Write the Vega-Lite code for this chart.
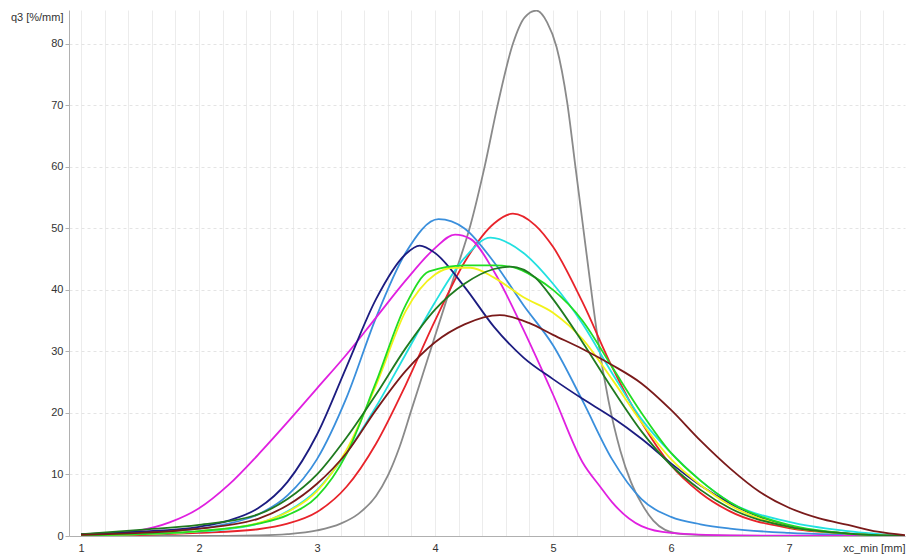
{
  "$schema": "https://vega.github.io/schema/vega-lite/v6.json",
  "width": 836,
  "height": 526,
  "autosize": "none",
  "padding": {"left": 69, "top": 10, "right": 3, "bottom": 18},
  "background": "white",
  "config": {
    "view": {"stroke": null},
    "font": "Liberation Sans"
  },
  "datasets": {
    "curves": [
      {"s": "gray", "x": 1, "y": 0}, {"s": "gray", "x": 2, "y": 0}, {"s": "gray", "x": 2.5, "y": 0.1}, {"s": "gray", "x": 2.75, "y": 0.3}, {"s": "gray", "x": 3, "y": 0.9}, {"s": "gray", "x": 3.2, "y": 2}, {"s": "gray", "x": 3.35, "y": 3.6}, {"s": "gray", "x": 3.5, "y": 6.5}, {"s": "gray", "x": 3.6, "y": 9.8}, {"s": "gray", "x": 3.7, "y": 14.5}, {"s": "gray", "x": 3.8, "y": 20.5}, {"s": "gray", "x": 3.9, "y": 26.5}, {"s": "gray", "x": 4, "y": 32.5}, {"s": "gray", "x": 4.15, "y": 41.5}, {"s": "gray", "x": 4.3, "y": 50.5}, {"s": "gray", "x": 4.42, "y": 60}, {"s": "gray", "x": 4.53, "y": 70}, {"s": "gray", "x": 4.66, "y": 80}, {"s": "gray", "x": 4.76, "y": 84.3}, {"s": "gray", "x": 4.86, "y": 85.4}, {"s": "gray", "x": 4.95, "y": 83.5}, {"s": "gray", "x": 5.03, "y": 79.5}, {"s": "gray", "x": 5.12, "y": 70.5}, {"s": "gray", "x": 5.19, "y": 60}, {"s": "gray", "x": 5.25, "y": 51}, {"s": "gray", "x": 5.31, "y": 42}, {"s": "gray", "x": 5.38, "y": 32}, {"s": "gray", "x": 5.47, "y": 22}, {"s": "gray", "x": 5.57, "y": 13.9}, {"s": "gray", "x": 5.66, "y": 8.8}, {"s": "gray", "x": 5.75, "y": 5.3}, {"s": "gray", "x": 5.85, "y": 2.5}, {"s": "gray", "x": 5.95, "y": 1}, {"s": "gray", "x": 6.1, "y": 0.3}, {"s": "gray", "x": 6.5, "y": 0.05}, {"s": "gray", "x": 7, "y": 0}, {"s": "gray", "x": 8, "y": 0},

      {"s": "red", "x": 1, "y": 0.1}, {"s": "red", "x": 1.5, "y": 0.2}, {"s": "red", "x": 2, "y": 0.5}, {"s": "red", "x": 2.5, "y": 1.1}, {"s": "red", "x": 2.75, "y": 2}, {"s": "red", "x": 3, "y": 3.9}, {"s": "red", "x": 3.25, "y": 8}, {"s": "red", "x": 3.5, "y": 15}, {"s": "red", "x": 3.75, "y": 24.5}, {"s": "red", "x": 4, "y": 35}, {"s": "red", "x": 4.25, "y": 44.5}, {"s": "red", "x": 4.5, "y": 50.8}, {"s": "red", "x": 4.66, "y": 52.4}, {"s": "red", "x": 4.85, "y": 50.5}, {"s": "red", "x": 5, "y": 47}, {"s": "red", "x": 5.25, "y": 38}, {"s": "red", "x": 5.5, "y": 27.5}, {"s": "red", "x": 5.75, "y": 18.5}, {"s": "red", "x": 6, "y": 11.5}, {"s": "red", "x": 6.25, "y": 7}, {"s": "red", "x": 6.5, "y": 4}, {"s": "red", "x": 7, "y": 1.3}, {"s": "red", "x": 7.5, "y": 0.4}, {"s": "red", "x": 8, "y": 0},

      {"s": "cyan", "x": 1, "y": 0.1}, {"s": "cyan", "x": 1.5, "y": 0.3}, {"s": "cyan", "x": 2, "y": 0.7}, {"s": "cyan", "x": 2.5, "y": 2}, {"s": "cyan", "x": 2.75, "y": 4}, {"s": "cyan", "x": 3, "y": 7.5}, {"s": "cyan", "x": 3.25, "y": 13.5}, {"s": "cyan", "x": 3.5, "y": 21}, {"s": "cyan", "x": 3.75, "y": 29.5}, {"s": "cyan", "x": 4, "y": 38}, {"s": "cyan", "x": 4.25, "y": 45.2}, {"s": "cyan", "x": 4.47, "y": 48.5}, {"s": "cyan", "x": 4.75, "y": 46}, {"s": "cyan", "x": 5, "y": 41}, {"s": "cyan", "x": 5.25, "y": 34.5}, {"s": "cyan", "x": 5.5, "y": 26.5}, {"s": "cyan", "x": 5.75, "y": 19}, {"s": "cyan", "x": 6, "y": 13.5}, {"s": "cyan", "x": 6.25, "y": 9}, {"s": "cyan", "x": 6.5, "y": 5.5}, {"s": "cyan", "x": 7, "y": 2.3}, {"s": "cyan", "x": 7.5, "y": 0.8}, {"s": "cyan", "x": 8, "y": 0},

      {"s": "blue", "x": 1, "y": 0.2}, {"s": "blue", "x": 1.5, "y": 0.5}, {"s": "blue", "x": 2, "y": 1.2}, {"s": "blue", "x": 2.25, "y": 2}, {"s": "blue", "x": 2.5, "y": 3.5}, {"s": "blue", "x": 2.75, "y": 6.6}, {"s": "blue", "x": 3, "y": 12.5}, {"s": "blue", "x": 3.25, "y": 22.5}, {"s": "blue", "x": 3.5, "y": 35.5}, {"s": "blue", "x": 3.75, "y": 46}, {"s": "blue", "x": 4.03, "y": 51.5}, {"s": "blue", "x": 4.25, "y": 50}, {"s": "blue", "x": 4.5, "y": 44.5}, {"s": "blue", "x": 4.75, "y": 37.5}, {"s": "blue", "x": 5, "y": 31}, {"s": "blue", "x": 5.25, "y": 22}, {"s": "blue", "x": 5.5, "y": 12.5}, {"s": "blue", "x": 5.75, "y": 6}, {"s": "blue", "x": 6, "y": 3.1}, {"s": "blue", "x": 6.25, "y": 1.9}, {"s": "blue", "x": 6.5, "y": 1.2}, {"s": "blue", "x": 7, "y": 0.5}, {"s": "blue", "x": 7.5, "y": 0.2}, {"s": "blue", "x": 8, "y": 0},

      {"s": "magenta", "x": 1, "y": 0.2}, {"s": "magenta", "x": 1.25, "y": 0.4}, {"s": "magenta", "x": 1.5, "y": 0.9}, {"s": "magenta", "x": 1.75, "y": 2.2}, {"s": "magenta", "x": 2, "y": 4.5}, {"s": "magenta", "x": 2.25, "y": 8.3}, {"s": "magenta", "x": 2.5, "y": 13.2}, {"s": "magenta", "x": 2.75, "y": 18.5}, {"s": "magenta", "x": 3, "y": 24}, {"s": "magenta", "x": 3.25, "y": 29.5}, {"s": "magenta", "x": 3.5, "y": 35.5}, {"s": "magenta", "x": 3.75, "y": 41.5}, {"s": "magenta", "x": 4, "y": 46.8}, {"s": "magenta", "x": 4.17, "y": 49}, {"s": "magenta", "x": 4.3, "y": 48.3}, {"s": "magenta", "x": 4.5, "y": 43}, {"s": "magenta", "x": 4.75, "y": 33.5}, {"s": "magenta", "x": 5, "y": 23}, {"s": "magenta", "x": 5.25, "y": 12}, {"s": "magenta", "x": 5.4, "y": 8}, {"s": "magenta", "x": 5.5, "y": 5.5}, {"s": "magenta", "x": 5.75, "y": 1.6}, {"s": "magenta", "x": 6, "y": 0.5}, {"s": "magenta", "x": 6.5, "y": 0.1}, {"s": "magenta", "x": 7, "y": 0.05}, {"s": "magenta", "x": 8, "y": 0},

      {"s": "navy", "x": 1, "y": 0.3}, {"s": "navy", "x": 1.5, "y": 0.7}, {"s": "navy", "x": 2, "y": 1.5}, {"s": "navy", "x": 2.25, "y": 2.5}, {"s": "navy", "x": 2.5, "y": 4.5}, {"s": "navy", "x": 2.75, "y": 8.8}, {"s": "navy", "x": 3, "y": 16.5}, {"s": "navy", "x": 3.25, "y": 27.5}, {"s": "navy", "x": 3.5, "y": 38.5}, {"s": "navy", "x": 3.75, "y": 45.8}, {"s": "navy", "x": 3.87, "y": 47.2}, {"s": "navy", "x": 4, "y": 46}, {"s": "navy", "x": 4.25, "y": 40.5}, {"s": "navy", "x": 4.5, "y": 34}, {"s": "navy", "x": 4.75, "y": 29}, {"s": "navy", "x": 5, "y": 25.5}, {"s": "navy", "x": 5.25, "y": 22.3}, {"s": "navy", "x": 5.5, "y": 19.3}, {"s": "navy", "x": 5.75, "y": 15.8}, {"s": "navy", "x": 6, "y": 11.8}, {"s": "navy", "x": 6.25, "y": 8.2}, {"s": "navy", "x": 6.5, "y": 5.3}, {"s": "navy", "x": 6.75, "y": 3.1}, {"s": "navy", "x": 7, "y": 1.6}, {"s": "navy", "x": 7.5, "y": 0.4}, {"s": "navy", "x": 8, "y": 0},

      {"s": "yellow", "x": 1, "y": 0.1}, {"s": "yellow", "x": 1.5, "y": 0.3}, {"s": "yellow", "x": 2, "y": 0.8}, {"s": "yellow", "x": 2.5, "y": 2.1}, {"s": "yellow", "x": 2.75, "y": 3.9}, {"s": "yellow", "x": 3, "y": 7.3}, {"s": "yellow", "x": 3.25, "y": 14}, {"s": "yellow", "x": 3.5, "y": 24.5}, {"s": "yellow", "x": 3.75, "y": 36.5}, {"s": "yellow", "x": 4, "y": 42.5}, {"s": "yellow", "x": 4.15, "y": 43.6}, {"s": "yellow", "x": 4.3, "y": 43.6}, {"s": "yellow", "x": 4.5, "y": 42}, {"s": "yellow", "x": 4.75, "y": 38.8}, {"s": "yellow", "x": 5, "y": 36.3}, {"s": "yellow", "x": 5.25, "y": 32}, {"s": "yellow", "x": 5.5, "y": 25.5}, {"s": "yellow", "x": 5.75, "y": 18.5}, {"s": "yellow", "x": 6, "y": 12.5}, {"s": "yellow", "x": 6.25, "y": 8.3}, {"s": "yellow", "x": 6.5, "y": 5}, {"s": "yellow", "x": 7, "y": 1.5}, {"s": "yellow", "x": 7.5, "y": 0.4}, {"s": "yellow", "x": 8, "y": 0},

      {"s": "lime", "x": 1, "y": 0.1}, {"s": "lime", "x": 1.5, "y": 0.3}, {"s": "lime", "x": 2, "y": 0.8}, {"s": "lime", "x": 2.5, "y": 2}, {"s": "lime", "x": 2.75, "y": 3.4}, {"s": "lime", "x": 3, "y": 6.4}, {"s": "lime", "x": 3.25, "y": 13.3}, {"s": "lime", "x": 3.5, "y": 25}, {"s": "lime", "x": 3.75, "y": 37.5}, {"s": "lime", "x": 3.95, "y": 43}, {"s": "lime", "x": 4.25, "y": 44}, {"s": "lime", "x": 4.5, "y": 44}, {"s": "lime", "x": 4.66, "y": 43.7}, {"s": "lime", "x": 4.85, "y": 42}, {"s": "lime", "x": 5, "y": 40}, {"s": "lime", "x": 5.25, "y": 35}, {"s": "lime", "x": 5.5, "y": 27.5}, {"s": "lime", "x": 5.75, "y": 20}, {"s": "lime", "x": 6, "y": 13.5}, {"s": "lime", "x": 6.25, "y": 9}, {"s": "lime", "x": 6.5, "y": 5.5}, {"s": "lime", "x": 7, "y": 1.8}, {"s": "lime", "x": 7.5, "y": 0.4}, {"s": "lime", "x": 8, "y": 0},

      {"s": "dgreen", "x": 1, "y": 0.3}, {"s": "dgreen", "x": 1.5, "y": 1}, {"s": "dgreen", "x": 2, "y": 1.8}, {"s": "dgreen", "x": 2.5, "y": 3.5}, {"s": "dgreen", "x": 2.75, "y": 6}, {"s": "dgreen", "x": 3, "y": 10}, {"s": "dgreen", "x": 3.25, "y": 16}, {"s": "dgreen", "x": 3.5, "y": 23}, {"s": "dgreen", "x": 3.75, "y": 30.5}, {"s": "dgreen", "x": 4, "y": 36.8}, {"s": "dgreen", "x": 4.25, "y": 41}, {"s": "dgreen", "x": 4.5, "y": 43.4}, {"s": "dgreen", "x": 4.64, "y": 43.8}, {"s": "dgreen", "x": 4.85, "y": 42}, {"s": "dgreen", "x": 5, "y": 38.5}, {"s": "dgreen", "x": 5.25, "y": 31.5}, {"s": "dgreen", "x": 5.5, "y": 24}, {"s": "dgreen", "x": 5.75, "y": 17}, {"s": "dgreen", "x": 6, "y": 11.5}, {"s": "dgreen", "x": 6.25, "y": 7.5}, {"s": "dgreen", "x": 6.5, "y": 4.5}, {"s": "dgreen", "x": 7, "y": 1.5}, {"s": "dgreen", "x": 7.5, "y": 0.4}, {"s": "dgreen", "x": 8, "y": 0},

      {"s": "maroon", "x": 1, "y": 0.2}, {"s": "maroon", "x": 1.5, "y": 0.5}, {"s": "maroon", "x": 2, "y": 1.2}, {"s": "maroon", "x": 2.5, "y": 2.8}, {"s": "maroon", "x": 2.75, "y": 5}, {"s": "maroon", "x": 3, "y": 8.5}, {"s": "maroon", "x": 3.25, "y": 13.5}, {"s": "maroon", "x": 3.5, "y": 20.5}, {"s": "maroon", "x": 3.75, "y": 26.8}, {"s": "maroon", "x": 4, "y": 31.5}, {"s": "maroon", "x": 4.25, "y": 34.4}, {"s": "maroon", "x": 4.55, "y": 35.9}, {"s": "maroon", "x": 4.8, "y": 34.6}, {"s": "maroon", "x": 5, "y": 32.7}, {"s": "maroon", "x": 5.25, "y": 30.4}, {"s": "maroon", "x": 5.5, "y": 27.8}, {"s": "maroon", "x": 5.75, "y": 24.8}, {"s": "maroon", "x": 6, "y": 20.5}, {"s": "maroon", "x": 6.25, "y": 15.5}, {"s": "maroon", "x": 6.5, "y": 11}, {"s": "maroon", "x": 6.75, "y": 7.2}, {"s": "maroon", "x": 7, "y": 4.6}, {"s": "maroon", "x": 7.25, "y": 2.9}, {"s": "maroon", "x": 7.5, "y": 1.8}, {"s": "maroon", "x": 7.75, "y": 0.7}, {"s": "maroon", "x": 8, "y": 0.1}
    ]
  },
  "data": {"name": "curves"},
  "mark": {"type": "line", "interpolate": "monotone", "strokeWidth": 1.8, "clip": true},
  "encoding": {
    "x": {
      "field": "x",
      "type": "quantitative",
      "scale": {"domain": [0.898, 7.983], "nice": false, "zero": false},
      "axis": {
        "values": [1, 1.2, 1.4, 1.6, 1.8, 2, 2.2, 2.4, 2.6, 2.8, 3, 3.2, 3.4, 3.6, 3.8, 4, 4.2, 4.4, 4.6, 4.8, 5, 5.2, 5.4, 5.6, 5.8, 6, 6.2, 6.4, 6.6, 6.8, 7, 7.2, 7.4, 7.6, 7.8],
        "labelExpr": "abs(datum.value - round(datum.value)) < 0.001 ? format(datum.value, 'd') : ''",
        "ticks": false,
        "labelPadding": 6,
        "labelFont": "Liberation Sans",
        "labelFontSize": 11,
        "labelColor": "#333333",
        "domainColor": "#b0b0b0",
        "gridColor": "#ececec",
        "gridWidth": 1,
        "title": "xc_min [mm]",
        "titleFont": "Liberation Sans",
        "titleFontSize": 11,
        "titleFontWeight": "normal",
        "titleColor": "#333333",
        "titleAnchor": "end",
        "titleAlign": "right",
        "titleX": 836,
        "titleY": 6,
        "titleBaseline": "top"
      }
    },
    "y": {
      "field": "y",
      "type": "quantitative",
      "scale": {"domain": [0, 85.5], "nice": false},
      "axis": {
        "values": [0, 10, 20, 30, 40, 50, 60, 70, 80],
        "tickSize": 4,
        "tickColor": "#b0b0b0",
        "labelPadding": 2,
        "labelFont": "Liberation Sans",
        "labelFontSize": 11,
        "labelColor": "#333333",
        "domainColor": "#b0b0b0",
        "gridColor": "#e4e4e4",
        "gridDash": [3, 3],
        "title": "q3 [%/mm]",
        "titleFont": "Liberation Sans",
        "titleFontSize": 11,
        "titleFontWeight": "normal",
        "titleColor": "#333333",
        "titleAngle": 0,
        "titleAlign": "right",
        "titleBaseline": "middle",
        "titleX": -6,
        "titleY": 7
      }
    },
    "color": {
      "field": "s",
      "type": "nominal",
      "scale": {
        "domain": ["gray", "maroon", "dgreen", "lime", "yellow", "cyan", "red", "blue", "magenta", "navy"],
        "range": ["#8a8a8a", "#7a1a1a", "#1f7a1f", "#22dd22", "#f2f21a", "#22e0e0", "#e8232a", "#3a8fdc", "#e020e0", "#1c1c80"]
      },
      "legend": null
    }
  }
}
